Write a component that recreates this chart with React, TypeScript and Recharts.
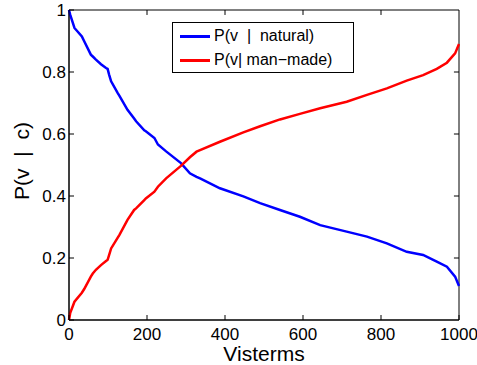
import { LineChart, Line, XAxis, YAxis, Legend, ReferenceArea, ReferenceLine } from 'recharts'

const visterms = [0, 3, 14, 33, 39, 56, 61, 69, 82, 95, 99, 103, 108, 125, 129, 150, 167, 172, 193, 197, 219, 228, 249, 287, 310, 327, 336, 387, 447, 490, 541, 592, 644, 712, 764, 815, 866, 908, 943, 969, 990, 1000]
const natural = [1.0, 0.985, 0.942, 0.915, 0.899, 0.856, 0.85, 0.84, 0.825, 0.813, 0.81, 0.791, 0.77, 0.732, 0.724, 0.678, 0.65, 0.641, 0.612, 0.609, 0.587, 0.566, 0.544, 0.506, 0.473, 0.462, 0.457, 0.425, 0.399, 0.377, 0.355, 0.333, 0.306, 0.285, 0.269, 0.247, 0.22, 0.21, 0.188, 0.172, 0.14, 0.11]
const manMade = [0.0, 0.022, 0.059, 0.088, 0.1, 0.14, 0.15, 0.162, 0.177, 0.19, 0.194, 0.21, 0.231, 0.266, 0.274, 0.323, 0.355, 0.36, 0.387, 0.392, 0.414, 0.43, 0.457, 0.497, 0.525, 0.543, 0.548, 0.575, 0.605, 0.625, 0.647, 0.665, 0.683, 0.704, 0.726, 0.747, 0.772, 0.79, 0.81, 0.83, 0.86, 0.89]
const xTicks = [0, 200, 400, 600, 800, 1000]
const yTicks = [0, 0.2, 0.4, 0.6, 0.8, 1]

const data = visterms.map((v, i) => ({ v, natural: natural[i], manMade: manMade[i] }))

const FONT = '"Liberation Sans", Arial, sans-serif'
const tickStyle = { fontSize: 17, fill: '#000', fontFamily: FONT }
const NB = '\u00A0'
// inward tick length on the top / right edges, in data units (~5px)
const TICK_X = 13
const TICK_Y = 0.016

function LegendBox() {
  const row = (color: string, text: string) => (
    <div style={{ display: 'flex', alignItems: 'center', height: 24 }}>
      <div style={{ width: 30, height: 0, borderTop: `3px solid ${color}`, marginLeft: 7, marginRight: 4 }} />
      <span style={{ whiteSpace: 'pre', fontSize: 16, fontFamily: FONT, color: '#000' }}>{text}</span>
    </div>
  )
  return (
    <div style={{ border: '1px solid #000', background: '#fff', width: 180, height: 48, boxSizing: 'content-box', paddingTop: 1 }}>
      {row('#0000ff', 'P(v  |  natural)')}
      {row('#ff0000', 'P(v| man\u2212made)')}
    </div>
  )
}

export default function App() {
  return (
    <div style={{ position: 'absolute', left: 0, top: 0, width: 477, height: 365, background: '#fff' }}>
      <LineChart width={477} height={365} data={data} margin={{ top: 10, right: 18, left: 0, bottom: 0 }}>
        <XAxis
          dataKey="v"
          type="number"
          domain={[0, 1000]}
          ticks={xTicks}
          height={45}
          tick={tickStyle}
          tickSize={-5}
          tickMargin={13}
          stroke="#000"
          label={{ value: 'Visterms', position: 'insideBottom', offset: 4, style: { fontSize: 21, fill: '#000', fontFamily: FONT } }}
        />
        <YAxis
          domain={[0, 1]}
          ticks={yTicks}
          width={69}
          tick={tickStyle}
          tickSize={-5}
          tickMargin={8}
          stroke="#000"
          label={{ value: `P(v${NB}${NB}|${NB}${NB}c)`, angle: -90, position: 'center', dx: -13, dy: -4, style: { fontSize: 21, fill: '#000', fontFamily: FONT } }}
        />
        <ReferenceArea x1={0} x2={1000} y1={0} y2={1} fill="none" stroke="#000" strokeWidth={1} />
        {xTicks.slice(1, -1).map((t) => (
          <ReferenceLine key={`tx${t}`} segment={[{ x: t, y: 1 }, { x: t, y: 1 - TICK_Y }]} stroke="#000" />
        ))}
        {yTicks.slice(1, -1).map((t) => (
          <ReferenceLine key={`ty${t}`} segment={[{ x: 1000, y: t }, { x: 1000 - TICK_X, y: t }]} stroke="#000" />
        ))}
        <Legend
          layout="horizontal"
          verticalAlign="middle"
          align="center"
          content={() => <LegendBox />}
          wrapperStyle={{ left: 172, top: 22, width: 'auto' }}
        />
        <Line dataKey="natural" name="P(v | natural)" stroke="#0000ff" strokeWidth={2.5} dot={false} isAnimationActive={false} />
        <Line dataKey="manMade" name="P(v | man-made)" stroke="#ff0000" strokeWidth={2.5} dot={false} isAnimationActive={false} />
      </LineChart>
    </div>
  )
}
